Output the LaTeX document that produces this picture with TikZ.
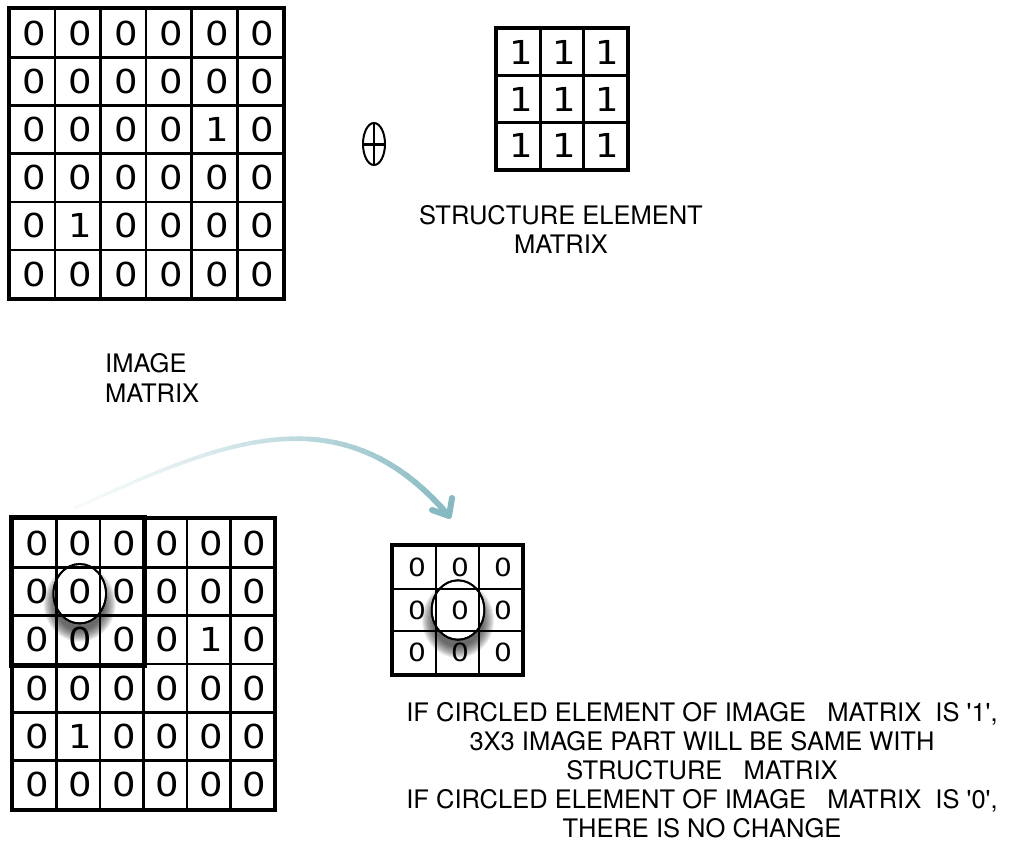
\documentclass[tikz,border=0pt]{standalone}
\usepackage{graphicx}
\usepackage{fontspec}
\setmainfont{TeX Gyre Heros}
\newfontfamily\digitfont{DejaVu Sans}
\usetikzlibrary{shapes.geometric}

\definecolor{arrowteal}{RGB}{134,186,194}
\definecolor{arrowpale}{RGB}{246,250,251}

% #1 name, #2 left, #3 top, #4 cell width, #5 cell height, #6 rows of values
\newcommand\cellgrid[6]{%
  \foreach \r [count=\i] in {#6} {
    \foreach \v [count=\j] in \r {
      \node[cell, minimum width=#4pt, minimum height=#5pt] (#1-\i-\j)
        at ({#2+(\j-0.5)*#4}, {#3+(\i-0.5)*#5}) {\hspace{5pt}\scalebox{1.12}[1]{\v}};
    }
  }%
}

\begin{document}
\begin{tikzpicture}[x=1pt,y=-1pt,
  cell/.style={draw, line width=2.6pt, inner sep=0pt,
    font=\digitfont\fontsize{33}{33}\selectfont},
  caption/.style={font=\fontsize{25.5}{29}\selectfont, inner sep=0pt},
  ring/.style={draw, ellipse, line width=1.8pt, inner sep=0pt,
    minimum width=52.6pt, minimum height=59.4pt},
  shadowlayer/.style={fill=black, fill opacity=0.07},
]
\useasboundingbox (0,0) rectangle (1012,847);

% image matrix
\cellgrid{I}{9.3}{9}{45.6}{48.2}{{0,0,0,0,0,0},{0,0,0,0,0,0},{0,0,0,0,1,0},{0,0,0,0,0,0},{0,1,0,0,0,0},{0,0,0,0,0,0}}
\draw[line width=3pt] (I-1-1.north west) rectangle (I-6-6.south east);

% dilation operator
\node[ellipse, draw, line width=2pt, inner sep=0pt, minimum width=22pt, minimum height=42pt] (op) at (374,144) {};
\draw[line width=1.3pt] (op.north) -- (op.south);
\draw[line width=3pt] (op.west) -- (op.east);

% structure element
\cellgrid{S}{497}{29}{43.3}{46.7}{{1,1,1},{1,1,1},{1,1,1}}
\draw[line width=3pt] (S-1-1.north west) rectangle (S-3-3.south east);

\node[caption, align=center, anchor=base] (stext) at (561,253) {STRUCTURE ELEMENT\\MATRIX};
\node[caption, align=left, anchor=base west] (itext) at (105,402) {IMAGE\\[1pt]MATRIX};

% image matrix with the 3x3 window
\cellgrid{B}{13}{519}{43.5}{48.3}{{0,0,0,0,0,0},{0,0,0,0,0,0},{0,0,0,0,1,0},{0,0,0,0,0,0},{0,1,0,0,0,0},{0,0,0,0,0,0}}
\draw[line width=3pt] (B-1-1.north west) rectangle (B-6-6.south east);
\draw[line width=5pt] (B-1-1.north west) rectangle (B-3-3.south east);

% result window
\begin{scope}[cell/.append style={line width=2pt, font=\digitfont\fontsize{25}{25}\selectfont}]
\cellgrid{R}{393}{546}{43}{42.7}{{0,0,0},{0,0,0},{0,0,0}}
\end{scope}
\draw[line width=4.5pt] (R-1-1.north west) rectangle (R-3-3.south east);

% circled centre elements with soft shadows
\node[ring] (c1) at (79.7,593.7) {};
\node[ring] (c2) at (458,610) {};
\foreach \c in {c1,c2} {
  \begin{scope}[even odd rule]
    \clip ([shift={(-70,-70)}]\c.center) rectangle ([shift={(70,70)}]\c.center)
      (\c.center) ellipse (26.3 and 29.7);
    \foreach \k in {0,...,11}
      \fill[shadowlayer] ([yshift=-10pt]\c.center) ellipse ({36-\k} and {38-\k});
  \end{scope}
  \node[ring] at (\c.center) {};
}

% curved arrow from the window to the result
\coordinate (a0) at (75,508);
\coordinate (a1) at (212,447);
\coordinate (a2) at (338,385);
\coordinate (a3) at (449,516);
\path (a0) .. controls (a1) and (a2) .. (a3)
  foreach \t in {0,...,40} { coordinate[pos=\t/40] (q\t) };
\foreach \t [evaluate=\t as \pc using {100*(\t/40)^1.2},
             evaluate=\t as \lw using {3+3*\t/40},
             evaluate=\t as \nt using {int(\t+1)}] in {0,...,39}
  \draw[line width=\lw pt, line cap=round, color=arrowteal!\pc!arrowpale] (q\t) -- (q\nt);
\draw[arrowteal, line width=6pt, line cap=round, line join=round]
  ([shift={(3,-18)}]a3) -- (a3) -- ([shift={(-17,-6)}]a3);

% rule text
\node[caption, align=center, anchor=base] (rule) at (702,837)
  {IF CIRCLED ELEMENT OF IMAGE\ \ \ MATRIX\ \ IS \textquotesingle1\textquotesingle,\\
   3X3 IMAGE PART WILL BE SAME WITH\\
   STRUCTURE\ \ \ MATRIX\\
   IF CIRCLED ELEMENT OF IMAGE\ \ \ MATRIX\ \ IS \textquotesingle0\textquotesingle,\\
   THERE IS NO CHANGE};
\end{tikzpicture}
\end{document}
